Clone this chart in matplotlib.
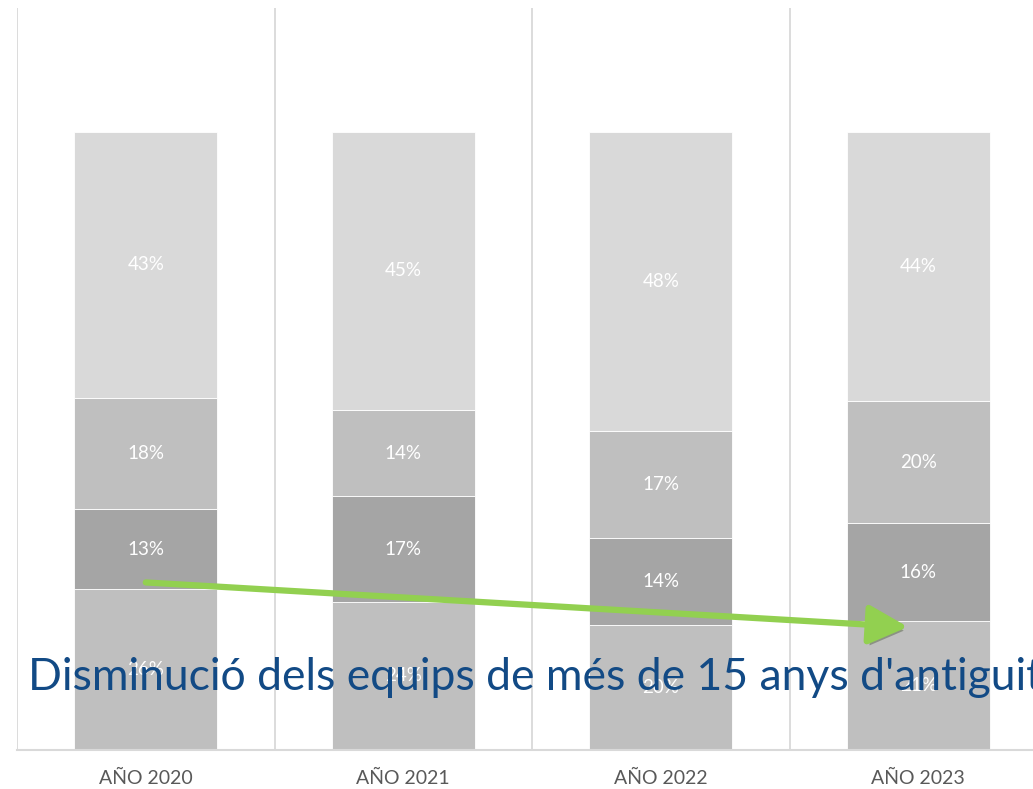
import matplotlib
matplotlib.use("Agg")
import matplotlib.pyplot as plt
import matplotlib.patheffects as pe
import numpy as np

plt.rcParams['font.family'] = ['Lato', 'DejaVu Sans']

years = ['AÑO 2020', 'AÑO 2021', 'AÑO 2022', 'AÑO 2023']
# stacked from bottom to top
seg_bottom = [26, 24, 20, 21]   # más de 15 años
seg_second = [13, 17, 14, 16]
seg_third = [18, 14, 17, 20]
seg_top = [43, 45, 48, 44]

series = [seg_bottom, seg_second, seg_third, seg_top]
colors = ['#bfbfbf', '#a5a5a5', '#bfbfbf', '#d9d9d9']

fig = plt.figure(figsize=(10.33, 7.89), dpi=100)
ax = fig.add_axes([17 / 1033, 39 / 789, 1030 / 1033, 742 / 789])

x = np.arange(len(years))
totals = np.sum(series, axis=0)
base = np.zeros(len(years))
for vals, col in zip(series, colors):
    frac = np.array(vals) / totals
    ax.bar(x, frac, 0.555, bottom=base, color=col, edgecolor='white',
           linewidth=0.6, zorder=2)
    for xi, b, f, v in zip(x, base, frac, vals):
        ax.text(xi, b + f / 2, f'{v}%', ha='center', va='center',
                color='white', fontsize=13.5, zorder=3)
    base = base + frac

ax.set_xlim(-0.5, 3.5)
ax.set_ylim(0, 1.2)
for b in np.arange(-0.5, 4.0, 1.0):
    ax.axvline(b, color='#d9d9d9', lw=1.3, zorder=1)

for s in ['top', 'right', 'left']:
    ax.spines[s].set_visible(False)
ax.spines['bottom'].set_color('#d9d9d9')
ax.spines['bottom'].set_linewidth(1.5)
ax.set_yticks([])
ax.set_xticks(x)
ax.set_xticklabels(years, color='#595959', fontsize=14)
ax.tick_params(axis='x', length=0, pad=14)

# trend arrow
arr = ax.annotate('', xy=(2.96, 0.199), xytext=(0.0, 0.271),
                  arrowprops=dict(arrowstyle='-|>,head_length=1.0,head_width=0.5',
                                  color='#92d050', lw=4.5, mutation_scale=24,
                                  shrinkA=0, shrinkB=0),
                  zorder=5)
arr.arrow_patch.set_path_effects([pe.SimplePatchShadow(offset=(2, -3), alpha=0.35),
                                  pe.Normal()])

fig.text(28 / 1033, 1 - 690 / 789, "Disminució dels equips de més de 15 anys d'antiguitat",
         color='#124a85', fontsize=32, ha='left', va='baseline', zorder=10)

fig.savefig('out.png', dpi=100)
